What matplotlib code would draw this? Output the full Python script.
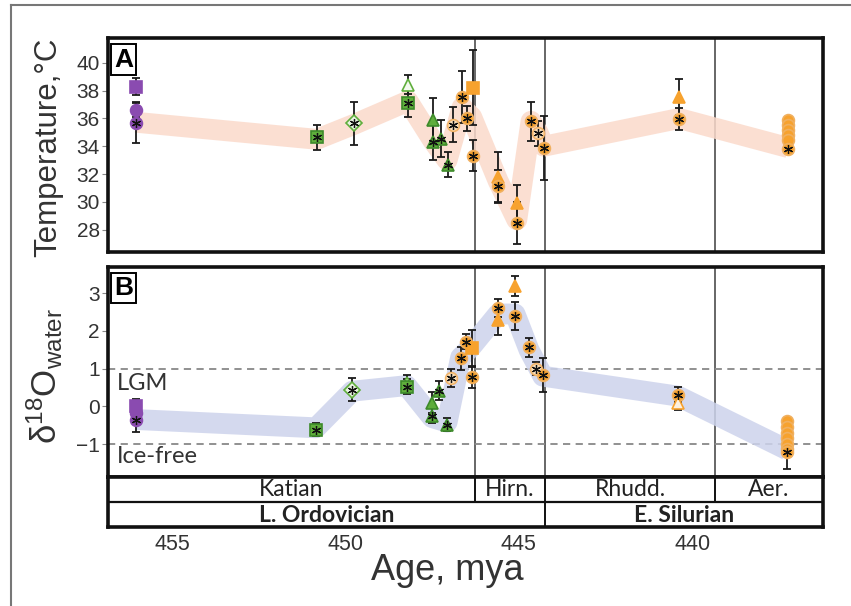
import matplotlib
matplotlib.use("Agg")
import matplotlib.pyplot as plt
from matplotlib.lines import Line2D
import numpy as np

plt.rcParams['font.family'] = ['Liberation Sans', 'DejaVu Sans']
plt.rcParams['mathtext.fontset'] = 'custom'
plt.rcParams['mathtext.rm'] = 'Liberation Sans'
plt.rcParams['mathtext.it'] = 'Liberation Sans:italic'

# ---------------- data ----------------
# Panel A: clumped-isotope temperatures
a_age = [456.05, 456.05, 456.05, 450.83, 449.76, 448.19, 448.19, 447.49, 447.49,
         447.26, 447.05, 446.91, 446.65, 446.51, 446.33, 446.33, 445.59, 445.59,
         445.06, 445.06, 444.66, 444.44, 444.28, 440.37, 440.37,
         437.23, 437.23, 437.23, 437.23, 437.23, 437.23]
a_temp = [38.3, 36.6, 35.7, 34.65, 35.66, 38.43, 37.13, 35.9, 34.3,
          34.54, 32.66, 35.55, 37.54, 36.0, 38.2, 33.33, 31.77, 31.1,
          29.9, 28.45, 35.8, 34.94, 33.9, 37.54, 35.98,
          35.9, 35.55, 35.19, 34.83, 34.46, 33.8]
a_err = [0.6, 0.5, 1.5, 0.9, 1.55, 0.7, 1.0, 1.6, 1.3,
         1.35, 0.9, 1.25, 1.9, 0.9, 2.7, 1.1, 1.8, 1.2,
         1.3, 1.5, 1.4, 0.9, 2.3, 1.3, 0.8,
         0, 0, 0, 0, 0, 0]
a_group = ['P_sq', 'P_ci', 'P_ci', 'G_sq', 'G_di_open', 'G_tri_open', 'G_sq', 'G_tri', 'G_tri',
           'G_tri', 'G_tri', 'O_ci_open', 'O_ci', 'O_ci', 'O_sq', 'O_ci', 'O_tri', 'O_ci',
           'O_tri', 'O_ci', 'O_ci', 'O_ci_open', 'O_ci', 'O_tri', 'O_ci',
           'O_ci', 'O_ci', 'O_ci', 'O_ci', 'O_ci', 'O_ci']
a_star = [0, 0, 1, 1, 1, 0, 1, 0, 1,
          1, 1, 1, 1, 1, 0, 1, 0, 1,
          0, 1, 1, 1, 1, 0, 1,
          0, 0, 0, 0, 0, 1]

# Panel B: seawater d18O
b_age = [456.05, 456.05, 456.05, 450.85, 449.81, 448.24, 448.24, 447.52, 447.52,
         447.30, 447.08, 446.96, 446.68, 446.53, 446.36, 446.36, 445.61, 445.61,
         445.11, 445.11, 444.71, 444.51, 444.31, 440.41, 440.41,
         437.27, 437.27, 437.27, 437.27, 437.27, 437.27, 437.27]
b_d18o = [0.0, -0.18, -0.37, -0.62, 0.44, 0.62, 0.52, 0.09, -0.25,
          0.42, -0.49, 0.75, 1.27, 1.72, 1.55, 0.77, 2.61, 2.28,
          3.2, 2.39, 1.57, 1.0, 0.84, 0.31, 0.09,
          -0.4, -0.55, -0.7, -0.85, -1.0, -1.12, -1.22]
b_err = [0.2, 0.0, 0.3, 0.18, 0.3, 0.2, 0.2, 0.28, 0.2,
         0.25, 0.17, 0.25, 0.3, 0.2, 0.48, 0.28, 0.25, 0.4,
         0.27, 0.37, 0.25, 0.17, 0.45, 0.2, 0.2,
         0, 0, 0, 0, 0, 0, 0.45]
b_group = ['P_sq', 'P_ci', 'P_ci', 'G_sq', 'G_di_open', 'G_tri_open', 'G_sq', 'G_tri', 'G_tri',
           'G_tri', 'G_tri', 'O_ci_open', 'O_ci', 'O_ci', 'O_sq', 'O_ci', 'O_ci', 'O_tri',
           'O_tri', 'O_ci', 'O_ci', 'O_ci_open', 'O_ci', 'O_ci', 'O_tri_open',
           'O_ci', 'O_ci', 'O_ci', 'O_ci', 'O_ci', 'O_ci', 'O_ci']
b_star = [0, 0, 1, 1, 1, 0, 1, 0, 1,
          1, 1, 1, 1, 1, 0, 1, 1, 0,
          0, 1, 1, 1, 1, 1, 0,
          0, 0, 0, 0, 0, 0, 1]

# smoothed trend bands
band_a_age = [456.05, 450.83, 449.76, 448.2, 447.48, 447.07, 446.64, 446.36,
              445.60, 445.06, 444.65, 444.45, 444.28, 440.38, 437.23]
band_a_temp = [35.73, 34.5, 35.57, 37.25, 34.4, 33.0, 36.8, 36.1,
               31.5, 28.7, 35.8, 35.0, 34.0, 36.0, 33.9]
band_b_age = [456.05, 450.85, 449.81, 448.24, 447.5, 447.07, 446.68, 446.4,
              445.6, 445.11, 444.71, 444.31, 440.41, 437.27]
band_b_d18o = [-0.35, -0.57, 0.4, 0.55, -0.3, -0.42, 1.3, 1.55,
               2.45, 2.45, 1.5, 0.8, 0.27, -1.15]

stage_bounds = [446.27, 444.25, 439.34]
stage_names = ['Katian', 'Hirn.', 'Rhudd.', 'Aer.']
series_names = ['L. Ordovician', 'E. Silurian']
ref_lines = [1, -1]
ref_labels = ['LGM', 'Ice-free']
age_ticks = [455, 450, 445, 440]
temp_ticks = [28, 30, 32, 34, 36, 38, 40]
d18o_ticks = [-1, 0, 1, 2, 3]

# ---------------- styles ----------------
PURPLE = '#8a4bb0'
GREEN = '#5fae3c'
ORANGE = '#f7a22e'
styles = {
    'P_sq': dict(marker='s', mfc=PURPLE, mec=PURPLE),
    'P_ci': dict(marker='o', mfc=PURPLE, mec=PURPLE),
    'G_sq': dict(marker='s', mfc=GREEN, mec='#3d8a2a'),
    'G_di_open': dict(marker='D', mfc='#e8f3e2', mec=GREEN),
    'G_tri_open': dict(marker='^', mfc='#f2f9ee', mec=GREEN),
    'G_tri': dict(marker='^', mfc=GREEN, mec='#3d8a2a'),
    'O_ci': dict(marker='o', mfc=ORANGE, mec='#f0b060'),
    'O_ci_open': dict(marker='o', mfc='#fbe0bc', mec='#f3b56a'),
    'O_sq': dict(marker='s', mfc=ORANGE, mec=ORANGE),
    'O_tri': dict(marker='^', mfc=ORANGE, mec=ORANGE),
    'O_tri_open': dict(marker='^', mfc='#fdf0df', mec=ORANGE),
}
TABLE_FONT = ['Lato', 'DejaVu Sans']

W, H = 851, 606
fig = plt.figure(figsize=(W / 100, H / 100), dpi=100)


def frac(x0, y0, x1, y1):
    return [x0 / W, 1 - y1 / H, (x1 - x0) / W, (y1 - y0) / H]


XLIM = (456.85, 436.23)
axA = fig.add_axes(frac(108, 38, 823, 252))
axB = fig.add_axes(frac(108, 266.5, 823, 477))
axT = fig.add_axes(frac(108, 477, 823, 527))


def draw_panel(ax, ages, vals, errs, groups, stars, bage, bval, bcolor, ylim, yticks, label):
    ax.set_xlim(*XLIM)
    ax.set_ylim(*ylim)
    for b in stage_bounds:
        ax.axvline(b, color='#666666', lw=1.4, zorder=1)
    ax.plot(bage, bval, color=bcolor, lw=15, solid_capstyle='butt',
            solid_joinstyle='round', alpha=0.85, zorder=2)
    ax.errorbar(ages, vals, yerr=errs, fmt='none', ecolor='#1a1a1a',
                elinewidth=1.3, capsize=3, capthick=1.3, zorder=3)
    for x, y, g, s in zip(ages, vals, groups, stars):
        st = styles[g]
        ax.plot([x], [y], ls='none', ms=8.5, mew=1.2, zorder=4, **st)
        if s:
            ax.plot([x], [y], ls='none', marker=(6, 2, 0), ms=6.5, mew=0.9,
                    color='#111111', zorder=5)
    ax.set_yticks(yticks)
    ax.set_xticks([])
    ax.tick_params(axis='y', labelsize=15, length=4, width=0.8, color='#888888',
                   labelcolor='#333333', pad=2)
    for sp in ax.spines.values():
        sp.set_linewidth(2.6)
        sp.set_color('#111111')
    ax.text(0.0085, 0.955, label, transform=ax.transAxes, ha='left', va='top',
            fontsize=19, fontweight='bold',
            bbox=dict(boxstyle='square,pad=0.12', fc='white', ec='black', lw=1.4),
            zorder=6)


draw_panel(axA, a_age, a_temp, a_err, a_group, a_star, band_a_age, band_a_temp,
           '#fbdacb', (26.38, 41.8), temp_ticks, 'A')
draw_panel(axB, b_age, b_d18o, b_err, b_group, b_star, band_b_age, band_b_d18o,
           '#cdd3ec', (-1.875, 3.71), d18o_ticks, 'B')

for yv in ref_lines:
    axB.axhline(yv, color='#888888', lw=1.3, ls=(0, (4, 3)), zorder=1.5)
axB.text(456.6, 0.6, ref_labels[0], fontsize=17, color='#333333',
         family=TABLE_FONT, va='center', ha='left')
axB.text(456.6, -1.33, ref_labels[1], fontsize=17, color='#333333',
         family=TABLE_FONT, va='center', ha='left')

# stratigraphic table
axT.set_xlim(*XLIM)
axT.set_ylim(0, 2)
axT.axhline(1, color='#111111', lw=1.6)
axT.plot([stage_bounds[0]] * 2, [1, 2], color='#111111', lw=1.4)
axT.plot([stage_bounds[1]] * 2, [0, 2], color='#111111', lw=1.4)
axT.plot([stage_bounds[2]] * 2, [1, 2], color='#111111', lw=1.4)
edges = [XLIM[0]] + stage_bounds + [XLIM[1]]
for i, name in enumerate(stage_names):
    axT.text((edges[i] + edges[i + 1]) / 2, 1.5, name, ha='center', va='center',
             fontsize=16.5, color='#222222', family=TABLE_FONT)
ser_edges = [XLIM[0], stage_bounds[1], XLIM[1]]
for i, name in enumerate(series_names):
    axT.text((ser_edges[i] + ser_edges[i + 1]) / 2, 0.48, name, ha='center', va='center',
             fontsize=16.5, fontweight='bold', color='#222222', family=TABLE_FONT)
axT.set_yticks([])
axT.set_xticks(age_ticks)
axT.tick_params(axis='x', length=0, labelsize=15.5, labelcolor='#333333', pad=5)
for sp in axT.spines.values():
    sp.set_linewidth(2.6)
    sp.set_color('#111111')

# axis labels
fig.text(48 / W, 1 - 147 / H, 'Temperature,°C', rotation=90, ha='center', va='center',
         fontsize=22.5, color='#333333')
fig.text(45 / W, 1 - 376 / H, r'$\mathrm{\delta^{18}O_{water}}$', rotation=90,
         ha='center', va='center', fontsize=25, color='#333333')
fig.text(447 / W, 1 - 570 / H, 'Age, mya', ha='center', va='center', fontsize=26,
         color='#333333')

# outer frame (top and left visible)
fig.add_artist(Line2D([11 / W, 11 / W], [1 - 5 / H, 0], color='#777777', lw=1.5))
fig.add_artist(Line2D([11 / W, 1], [1 - 5 / H, 1 - 5 / H], color='#777777', lw=1.5))

fig.savefig('out.png', dpi=100)
